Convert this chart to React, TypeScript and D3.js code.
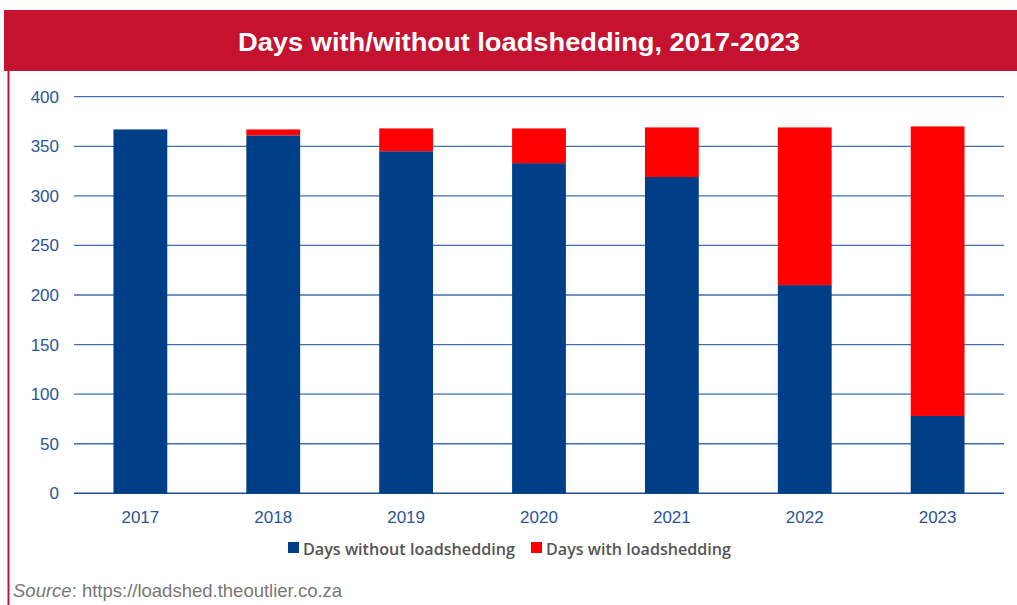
import React, { useRef, useEffect } from "react";
import * as d3 from "d3";

const years = ["2017", "2018", "2019", "2020", "2021", "2022", "2023"];
const daysWithout = [367, 361, 345, 333, 319, 210, 78];
const daysWith = [0, 6, 23, 35, 50, 159, 292];
const yTicks = [0, 50, 100, 150, 200, 250, 300, 350, 400];
const seriesNames = ["Days without loadshedding", "Days with loadshedding"];
const seriesColors = ["#003F87", "#FF0000"];

const W = 1017;
const H = 605;

const App = () => {
  const ref = useRef<SVGSVGElement | null>(null);

  useEffect(() => {
    if (!ref.current) return;
    const svg = d3.select(ref.current);
    svg.selectAll("*").remove();

    const font = "'Liberation Sans', Arial, sans-serif";
    const left = 74;
    const right = 1004;
    const top = 96.7;
    const bottom = 493.3;

    // title bar + left rule
    svg.append("rect").attr("x", 4).attr("y", 10).attr("width", W - 4).attr("height", 61).attr("fill", "#C41230");
    svg.append("rect").attr("x", 7.5).attr("y", 10).attr("width", 2).attr("height", H - 10).attr("fill", "#C41230");
    svg.append("text")
      .attr("x", 519).attr("y", 51)
      .attr("text-anchor", "middle")
      .attr("fill", "#fff")
      .attr("textLength", 562)
      .attr("lengthAdjust", "spacingAndGlyphs")
      .style("font-family", font)
      .style("font-weight", "bold")
      .style("font-size", "25px")
      .text("Days with/without loadshedding, 2017-2023");

    const x = d3.scaleBand().domain(years).range([left, right]).paddingInner(0.595).paddingOuter(0.297);
    const y = d3.scaleLinear().domain([0, 400]).range([bottom, top]);

    const g = svg.append("g");

    // gridlines
    g.selectAll("line.grid")
      .data(yTicks)
      .enter()
      .append("line")
      .attr("x1", left).attr("x2", right)
      .attr("y1", (d) => y(d)).attr("y2", (d) => y(d))
      .attr("stroke", (d) => (d === 0 ? "#1F4F93" : "#3F6FAD"))
      .attr("stroke-width", (d) => (d === 0 ? 1.6 : 1.3));

    g.selectAll("text.ytick")
      .data(yTicks)
      .enter()
      .append("text")
      .attr("x", 59).attr("y", (d) => y(d) + 6)
      .attr("text-anchor", "end")
      .attr("fill", "#2A5597")
      .style("font-family", font)
      .style("font-size", "17px")
      .text((d) => d);

    const rows = years.map((yr, i) => ({ year: yr, without: daysWithout[i], with: daysWith[i] }));
    const stacked = d3.stack<any>().keys(["without", "with"])(rows);

    stacked.forEach((layer, li) => {
      g.selectAll(null)
        .data(layer)
        .enter()
        .append("rect")
        .attr("x", (d: any) => x(d.data.year)!)
        .attr("width", x.bandwidth())
        .attr("y", (d: any) => y(d[1]))
        .attr("height", (d: any) => y(d[0]) - y(d[1]))
        .attr("fill", seriesColors[li]);
    });

    g.selectAll("text.xtick")
      .data(years)
      .enter()
      .append("text")
      .attr("x", (d) => x(d)! + x.bandwidth() / 2)
      .attr("y", 523)
      .attr("text-anchor", "middle")
      .attr("fill", "#2A5597")
      .style("font-family", font)
      .style("font-size", "17px")
      .text((d) => d);

    // legend
    const legendX = [288, 531];
    const legendLen = [212, 185];
    seriesNames.forEach((name, i) => {
      svg.append("rect").attr("x", legendX[i]).attr("y", 542).attr("width", 11).attr("height", 11).attr("fill", seriesColors[i]);
      svg.append("text")
        .attr("x", legendX[i] + 15).attr("y", 555)
        .attr("fill", "#555")
        .attr("textLength", legendLen[i])
        .attr("lengthAdjust", "spacingAndGlyphs")
        .style("font-family", "'Open Sans', sans-serif")
        .style("font-weight", "600")
        .style("font-size", "17px")
        .text(name);
    });

    // source
    const src = svg.append("text")
      .attr("x", 13).attr("y", 597)
      .attr("fill", "#777")
      .style("font-family", font)
      .style("font-size", "18.5px");
    src.append("tspan").style("font-style", "italic").text("Source");
    src.append("tspan").text(": https://loadshed.theoutlier.co.za");
  }, []);

  return (
    <svg
      ref={ref}
      width={W}
      height={H}
      style={{ position: "absolute", left: 0, top: 0, background: "#fff" }}
    />
  );
};

export default App;
